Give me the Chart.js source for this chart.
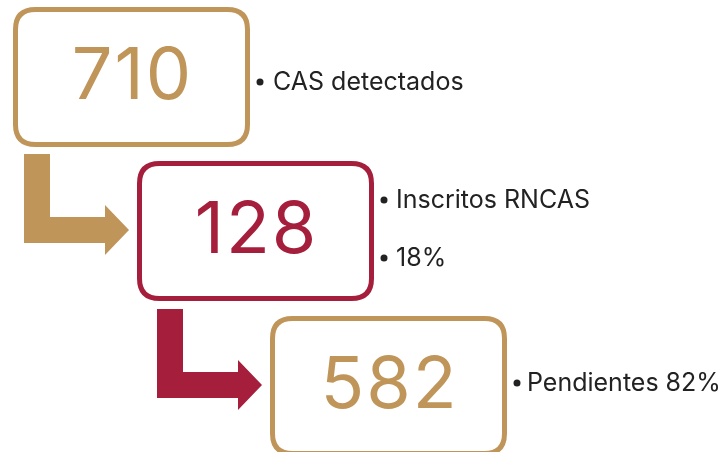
<!DOCTYPE html>
<html>
<head>
<meta charset="utf-8">
<script src="https://cdn.jsdelivr.net/npm/chart.js@4"></script>
<style>
  html, body { margin: 0; padding: 0; background: #fff; }
  #wrap { width: 720px; height: 452px; position: relative; }
</style>
</head>
<body>
<div id="wrap"><canvas id="chart"></canvas></div>
<script>
// ================================
//            DATA
// ================================
const counts = [710, 128, 582];
const notes = [["CAS detectados"], ["Inscritos RNCAS", "18%"], ["Pendientes 82%"]];

// ================================
//           LAYOUT / STYLE
// ================================
const gold = "#c0955a";
const wine = "#a51f3c";
const ink = "#222222";

const boxColors = [gold, wine, gold];
const boxLeft = [13, 137, 270];
const boxTop = [7, 161, 316];
const boxW = 237;
const boxH = 140;
// vertical offset of each note line from box centre
const noteDy = [[5], [-31, 27], [-3]];
// gap between bullet and text
const noteGap = [13, 12, 10];

const centers = counts.map((v, i) => ({
  x: boxLeft[i] + boxW / 2,
  y: boxTop[i] + boxH / 2,
}));

function roundRect(ctx, x, y, w, h, r) {
  ctx.beginPath();
  ctx.moveTo(x + r, y);
  ctx.lineTo(x + w - r, y);
  ctx.quadraticCurveTo(x + w, y, x + w, y + r);
  ctx.lineTo(x + w, y + h - r);
  ctx.quadraticCurveTo(x + w, y + h, x + w - r, y + h);
  ctx.lineTo(x + r, y + h);
  ctx.quadraticCurveTo(x, y + h, x, y + h - r);
  ctx.lineTo(x, y + r);
  ctx.quadraticCurveTo(x, y, x + r, y);
  ctx.closePath();
}

// bent arrow ending at (tx, ty)
function drawArrow(ctx, tx, ty, color) {
  const left = tx - 105;
  const top = ty - 76;
  const shaft = 26;
  const headLen = 24;
  const headHalf = 25;
  ctx.fillStyle = color;
  ctx.beginPath();
  ctx.moveTo(left, top);
  ctx.lineTo(left + shaft, top);
  ctx.lineTo(left + shaft, ty - shaft / 2);
  ctx.lineTo(tx - headLen, ty - shaft / 2);
  ctx.lineTo(tx - headLen, ty - headHalf);
  ctx.lineTo(tx, ty);
  ctx.lineTo(tx - headLen, ty + headHalf);
  ctx.lineTo(tx - headLen, ty + shaft / 2);
  ctx.lineTo(left, ty + shaft / 2);
  ctx.closePath();
  ctx.fill();
}

const infographic = {
  id: "infographic",
  afterDatasetsDraw(chart) {
    const ctx = chart.ctx;
    const meta = chart.getDatasetMeta(0);
    const xs = chart.scales.x;
    ctx.save();

    meta.data.forEach((pt, i) => {
      const cx = pt.x;
      const cy = pt.y;
      const w = xs.getPixelForValue(boxW) - xs.getPixelForValue(0);
      const h = boxH;
      const x0 = cx - w / 2;
      const y0 = cy - h / 2;

      // arrow from previous box into this one
      if (i > 0) drawArrow(ctx, x0 - 8, cy - 1, boxColors[i - 1]);

      // box
      ctx.lineWidth = 5;
      ctx.strokeStyle = boxColors[i];
      roundRect(ctx, x0 + 2.5, y0 + 2.5, w - 5, h - 5, 20);
      ctx.stroke();

      // number
      ctx.fillStyle = boxColors[i];
      ctx.font = "400 72px Inter";
      ctx.letterSpacing = "2px";
      ctx.textAlign = "center";
      ctx.textBaseline = "alphabetic";
      ctx.fillText(String(counts[i]), cx + 1, y0 + 92);
      ctx.letterSpacing = "0px";

      // notes
      ctx.font = "400 25px Inter";
      ctx.textAlign = "left";
      ctx.textBaseline = "middle";
      notes[i].forEach((txt, j) => {
        const ny = cy + noteDy[i][j];
        const bx = x0 + w + 10;
        ctx.fillStyle = ink;
        ctx.beginPath();
        ctx.arc(bx, ny, 3.5, 0, Math.PI * 2);
        ctx.fill();
        ctx.fillText(txt, bx + noteGap[i], ny);
      });
    });

    ctx.restore();
  },
};

new Chart(document.getElementById("chart"), {
  type: "scatter",
  data: {
    datasets: [
      {
        label: "CAS",
        data: centers,
        pointRadius: 0,
        pointHoverRadius: 0,
      },
    ],
  },
  options: {
    responsive: true,
    maintainAspectRatio: false,
    animation: false,
    layout: { padding: 0 },
    plugins: { legend: { display: false }, tooltip: { enabled: false } },
    scales: {
      x: { type: "linear", min: 0, max: 720, display: false },
      y: { type: "linear", min: 0, max: 452, reverse: true, display: false },
    },
  },
  plugins: [infographic],
});
</script>
</body>
</html>
